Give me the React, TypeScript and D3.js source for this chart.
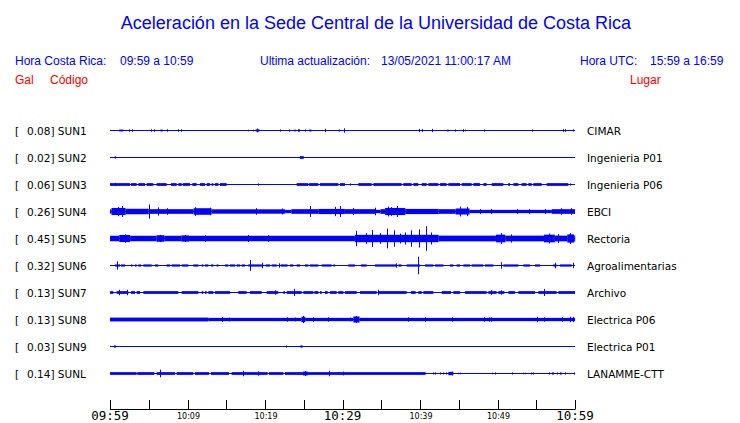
import React from "react";
import * as d3 from "d3";

const W = 740;
const H = 423;

const stations = ["SUN1", "SUN2", "SUN3", "SUN4", "SUN5", "SUN6", "SUN7", "SUN8", "SUN9", "SUNL"];
const maxGal = [0.08, 0.02, 0.06, 0.26, 0.45, 0.32, 0.13, 0.13, 0.03, 0.14];
const places = ["CIMAR", "Ingenieria P01", "Ingenieria P06", "EBCI", "Rectoria", "Agroalimentarias", "Archivo", "Electrica P06", "Electrica P01", "LANAMME-CTT"];

// time in minutes after 09:59, amplitude in Gal: [start, end, amp]
const sun1Bands = [[1.2, 1.7, 0.035], [6.5, 6.8, 0.035], [18.8, 19.3, 0.04], [23.7, 24.0, 0.03], [25.7, 26.0, 0.035], [29.5, 29.7, 0.035], [43.5, 43.7, 0.035]];
const sun1Spikes = [[2.5, 0.045], [2.8, 0.045], [3.7, 0.02], [5.3, 0.045], [5.7, 0.045], [7.3, 0.045], [8.8, 0.045], [9.2, 0.045], [17.8, 0.03], [18.5, 0.03], [19.0, 0.07], [21.9, 0.04], [23.1, 0.04], [24.2, 0.045], [24.4, 0.045], [25.1, 0.04], [27.7, 0.06], [30.2, 0.08], [39.9, 0.06], [40.3, 0.05], [41.6, 0.06], [44.5, 0.04], [45.6, 0.05], [45.8, 0.03], [48.3, 0.04], [49.5, 0.02], [54.4, 0.04], [58.5, 0.05], [58.7, 0.05], [59.7, 0.04]];

const sun2Bands = [[0.6, 0.8, 0.04], [24.5, 25.0, 0.05]];
const sun2Spikes = [];

const sun3Bands = [[0, 2.58, 0.05], [2.71, 3.44, 0.05], [3.66, 4.52, 0.05], [4.73, 5.59, 0.05], [6.02, 7.31, 0.05], [7.87, 8.6, 0.05], [8.82, 9.25, 0.05], [9.38, 10.32, 0.05], [10.62, 11.18, 0.05], [11.61, 12.26, 0.05], [12.47, 12.9, 0.05], [13.12, 13.33, 0.05], [13.55, 13.98, 0.05], [14.19, 15.05, 0.05], [24.09, 25.59, 0.05], [25.68, 26.88, 0.05], [27.1, 29.46, 0.05], [29.68, 30.32, 0.05], [32.04, 33.76, 0.05], [33.98, 37.63, 0.05], [37.85, 38.92, 0.05], [39.14, 39.78, 0.05], [40.22, 40.86, 0.05], [41.08, 42.37, 0.05], [42.58, 43.44, 0.05], [43.66, 45.16, 0.05], [45.38, 46.67, 0.05], [46.88, 47.74, 0.05], [48.17, 48.6, 0.05], [49.25, 50.75, 0.05], [51.4, 51.61, 0.05], [52.04, 52.69, 0.05], [53.12, 53.76, 0.05], [53.98, 54.41, 0.05], [54.62, 55.7, 0.05], [56.34, 59.14, 0.05]];
const sun3Spikes = [[0.65, 0.06], [19.14, 0.04], [30.97, 0.04], [59.35, 0.04]];

const sun4Bands = [[0, 0.2, 0.08], [0.2, 2.0, 0.13], [2.0, 5.0, 0.1], [5.0, 10.8, 0.085], [10.8, 13.1, 0.12], [13.1, 22.6, 0.08], [22.6, 23.4, 0.06], [23.4, 26.9, 0.085], [26.9, 30.3, 0.095], [30.3, 34.3, 0.085], [34.3, 34.9, 0.06], [34.9, 35.5, 0.085], [35.5, 38.1, 0.13], [38.1, 42.4, 0.095], [42.4, 44.6, 0.085], [44.6, 46.4, 0.11], [46.4, 57.0, 0.06], [57.0, 60, 0.085]];
const sun4Spikes = [[1.0, 0.17], [1.6, 0.2], [5.05, 0.26], [6.2, 0.15], [7.3, 0.12], [11.0, 0.16], [12.9, 0.14], [18.9, 0.12], [22.2, 0.11], [25.8, 0.2], [29.0, 0.17], [29.7, 0.2], [31.4, 0.13], [34.2, 0.14], [35.9, 0.18], [36.3, 0.16], [37.0, 0.2], [45.2, 0.18], [46.0, 0.17], [47.7, 0.09], [49.1, 0.09], [52.5, 0.09], [54.0, 0.09], [56.1, 0.09], [58.2, 0.12], [59.5, 0.12]];

const sun5Bands = [[0, 1.2, 0.1], [1.2, 2.6, 0.13], [2.6, 6.0, 0.1], [6.0, 7.0, 0.12], [7.0, 9.2, 0.1], [9.2, 10.2, 0.115], [10.2, 31.6, 0.1], [31.6, 42.4, 0.135], [42.4, 49.8, 0.105], [49.8, 51.0, 0.14], [51.0, 56.0, 0.105], [56.0, 57.4, 0.14], [57.4, 59.0, 0.105], [59.0, 59.9, 0.15], [59.9, 60, 0.105]];
const sun5Spikes = [[1.9, 0.15], [6.5, 0.13], [9.7, 0.13], [12.3, 0.12], [17.8, 0.13], [20.4, 0.12], [31.8, 0.28], [33.0, 0.2], [33.8, 0.31], [34.8, 0.2], [35.8, 0.36], [36.7, 0.3], [37.4, 0.18], [38.1, 0.22], [38.9, 0.3], [39.9, 0.33], [40.8, 0.45], [41.4, 0.22], [50.5, 0.2], [51.8, 0.15], [56.6, 0.18], [57.8, 0.17], [59.4, 0.2]];

const sun6Bands = [[0.65, 1.29, 0.04], [1.42, 1.94, 0.04], [2.71, 2.88, 0.04], [3.23, 3.44, 0.04], [3.66, 4.0, 0.04], [4.3, 5.38, 0.04], [5.81, 6.24, 0.04], [7.31, 7.74, 0.04], [7.96, 9.03, 0.04], [9.25, 10.11, 0.04], [10.75, 11.4, 0.04], [11.83, 12.04, 0.04], [12.26, 12.69, 0.04], [13.03, 13.33, 0.04], [13.76, 13.98, 0.04], [14.84, 15.27, 0.04], [15.48, 16.13, 0.04], [16.34, 16.77, 0.04], [16.99, 17.42, 0.04], [17.85, 19.78, 0.04], [20.09, 20.65, 0.04], [20.86, 21.51, 0.04], [22.02, 22.92, 0.04], [23.23, 23.66, 0.04], [24.09, 24.52, 0.04], [25.16, 25.59, 0.04], [25.81, 26.88, 0.04], [27.31, 28.6, 0.04], [28.82, 29.03, 0.04], [30.75, 31.61, 0.04], [32.39, 33.12, 0.04], [34.19, 36.99, 0.04], [37.2, 37.63, 0.04], [38.28, 40.0, 0.04], [40.65, 41.72, 0.04], [41.94, 43.01, 0.04], [43.87, 44.3, 0.04], [44.73, 45.16, 0.04], [45.59, 46.45, 0.04], [46.67, 48.17, 0.04], [48.39, 49.46, 0.04], [50.75, 52.69, 0.04], [53.33, 54.19, 0.04], [54.84, 55.48, 0.04], [57.2, 57.63, 0.04], [58.06, 59.57, 0.04]];
const sun6Spikes = [[0.95, 0.15], [18.1, 0.2], [19.6, 0.1], [21.8, 0.08], [36.9, 0.08], [39.7, 0.32], [50.4, 0.12], [57.4, 0.1], [59.8, 0.1]];

const sun7Bands = [[0, 0.43, 0.05], [0.86, 2.37, 0.05], [2.71, 3.23, 0.05], [3.44, 3.87, 0.05], [4.3, 8.82, 0.05], [9.25, 11.4, 0.05], [11.83, 12.04, 0.05], [12.26, 12.47, 0.05], [12.69, 13.33, 0.05], [13.55, 15.48, 0.05], [16.56, 17.63, 0.05], [18.06, 19.57, 0.05], [20.22, 21.72, 0.05], [22.37, 22.58, 0.05], [22.8, 24.73, 0.05], [24.95, 26.24, 0.05], [26.37, 26.88, 0.05], [27.1, 27.31, 0.05], [27.74, 28.09, 0.05], [28.39, 29.25, 0.05], [29.46, 30.11, 0.05], [30.32, 31.83, 0.05], [32.26, 34.41, 0.05], [34.62, 38.28, 0.05], [38.84, 39.44, 0.05], [39.78, 40.22, 0.05], [40.43, 41.72, 0.05], [42.8, 44.0, 0.05], [44.3, 45.16, 0.05], [45.81, 48.6, 0.05], [48.82, 49.89, 0.05], [50.11, 50.88, 0.05], [51.4, 52.26, 0.05], [52.69, 54.84, 0.05], [55.27, 57.63, 0.05], [57.85, 60, 0.05]];
const sun7Spikes = [[1.2, 0.1], [2.2, 0.1], [21.3, 0.08], [23.7, 0.13], [34.6, 0.1], [49.2, 0.09], [50.5, 0.08], [56.0, 0.13]];

const sun8Bands = [[0, 12.7, 0.07], [12.7, 24.7, 0.06], [24.7, 25.2, 0.1], [25.2, 31.4, 0.06], [31.4, 32.2, 0.11], [32.2, 60, 0.06]];
const sun8Spikes = [[14.5, 0.09], [15.4, 0.07], [22.8, 0.08], [23.9, 0.07], [24.9, 0.13], [26.2, 0.08], [28.1, 0.08], [31.0, 0.07], [31.7, 0.13], [38.5, 0.08], [40.6, 0.08], [44.1, 0.08], [48.2, 0.08], [48.9, 0.08], [49.2, 0.08], [55.1, 0.1], [56.0, 0.08], [58.3, 0.08], [59.4, 0.1], [59.8, 0.1]];

const sun9Bands = [[0.5, 0.77, 0.04], [24.5, 24.9, 0.03]];
const sun9Spikes = [[22.75, 0.04], [24.7, 0.04]];

const sunLBands = [[0, 3.44, 0.05], [3.53, 5.72, 0.05], [6.02, 8.39, 0.05], [8.6, 10.75, 0.05], [10.97, 12.77, 0.05], [13.03, 15.35, 0.05], [15.7, 20.34, 0.05], [20.52, 22.37, 0.05], [22.58, 40.73, 0.05], [24.9, 25.5, 0.07], [43.66, 44.3, 0.06], [58.06, 58.28, 0.04]];
const sunLSpikes = [[6.45, 0.14], [17.2, 0.1], [19.1, 0.08], [25.2, 0.09], [28.2, 0.1], [30.1, 0.07], [41.72, 0.04], [41.94, 0.04], [42.58, 0.04], [43.01, 0.04], [43.31, 0.04], [44.1, 0.07], [44.86, 0.03], [45.16, 0.03], [49.25, 0.03], [49.68, 0.04], [51.91, 0.04], [53.33, 0.03], [53.55, 0.03], [54.32, 0.04], [54.54, 0.04], [56.65, 0.04], [56.99, 0.04], [57.2, 0.04], [57.63, 0.04], [58.71, 0.04], [59.87, 0.04]];

const bandsList = [sun1Bands, sun2Bands, sun3Bands, sun4Bands, sun5Bands, sun6Bands, sun7Bands, sun8Bands, sun9Bands, sunLBands];
const spikesList = [sun1Spikes, sun2Spikes, sun3Spikes, sun4Spikes, sun5Spikes, sun6Spikes, sun7Spikes, sun8Spikes, sun9Spikes, sunLSpikes];

const tickMinutes = [0, 5, 10, 15, 20, 25, 30, 35, 40, 45, 50, 55, 60];
const bigLabels = [[0, "09:59"], [30, "10:29"], [60, "10:59"]];
const smallLabels = [[10, "10:09"], [20, "10:19"], [40, "10:39"], [50, "10:49"]];

const BLUE = "#0000ff";
const RED = "#ff0000";

export default function App() {
  const x = d3.scaleLinear().domain([0, 60]).range([110, 575]);
  const row = d3.scalePoint().domain(stations).range([130.5, 373.5]);
  const amp = d3.scaleLinear().domain([0, 0.45]).range([0, 12.3]);
  const header = { fontFamily: "'Liberation Sans', Arial, sans-serif" };
  const label = { fontFamily: "'DejaVu Sans', sans-serif", fontSize: 10.5, fill: "#000" };

  return (
    <svg width={W} height={H} style={{ position: "absolute", left: 0, top: 0, background: "#fff" }}>
      <rect width={W} height={H} fill="#fff" />
      <text x={376} y={29} textAnchor="middle" fill={BLUE} fontSize={18} style={header}>
        Aceleración en la Sede Central de la Universidad de Costa Rica
      </text>
      <g fill={BLUE} fontSize={12} style={header}>
        <text x={15} y={65}>Hora Costa Rica:</text>
        <text x={120} y={65}>09:59 a 10:59</text>
        <text x={260} y={65}>Ultima actualización:</text>
        <text x={381} y={65}>13/05/2021 11:00:17 AM</text>
        <text x={580} y={65}>Hora UTC:</text>
        <text x={650} y={65}>15:59 a 16:59</text>
      </g>
      <g fill={RED} fontSize={12} style={header}>
        <text x={15} y={84}>Gal</text>
        <text x={50} y={84}>Código</text>
        <text x={630} y={84}>Lugar</text>
      </g>

      {stations.map((s, i) => {
        const cy = row(s) as number;
        return (
          <g key={s}>
            <text x={15} y={cy + 4} style={label}>[</text>
            <text x={27} y={cy + 4} style={label}>{maxGal[i].toFixed(2) + "] " + s}</text>
            <text x={587} y={cy + 4} style={label}>{places[i]}</text>
            <line x1={x(0)} x2={x(60)} y1={cy} y2={cy} stroke={BLUE} strokeWidth={1} />
            {bandsList[i].map((b, j) => {
              const x0 = x(b[0]);
              const w = Math.max(1, x(b[1]) - x0);
              const h = amp(b[2]);
              return <rect key={"b" + j} x={x0} y={cy - h} width={w} height={2 * h} fill={BLUE} />;
            })}
            {spikesList[i].map((p, j) => {
              const px = Math.round(x(p[0])) + 0.5;
              const h = amp(p[1]);
              return <line key={"s" + j} x1={px} x2={px} y1={cy - h} y2={cy + h} stroke={BLUE} strokeWidth={1} />;
            })}
          </g>
        );
      })}

      <g>
        <line x1={x(0)} x2={x(60)} y1={409.5} y2={409.5} stroke="#000" strokeWidth={1} />
        {tickMinutes.map((m) => {
          const px = Math.round(x(m)) + 0.5;
          return <line key={m} x1={px} x2={px} y1={400} y2={409.5} stroke="#000" strokeWidth={1} />;
        })}
        {bigLabels.map(([m, t]) => (
          <text key={t as string} x={x(m as number)} y={420} textAnchor="middle" fontSize={12.5} fill="#000" style={{ fontFamily: "'DejaVu Sans Mono', monospace" }}>{t}</text>
        ))}
        {smallLabels.map(([m, t]) => (
          <text key={t as string} x={x(m as number) + 1} y={419} textAnchor="middle" fontSize={8} fill="#000" style={{ fontFamily: "'DejaVu Sans', sans-serif" }}>{t}</text>
        ))}
      </g>
    </svg>
  );
}
